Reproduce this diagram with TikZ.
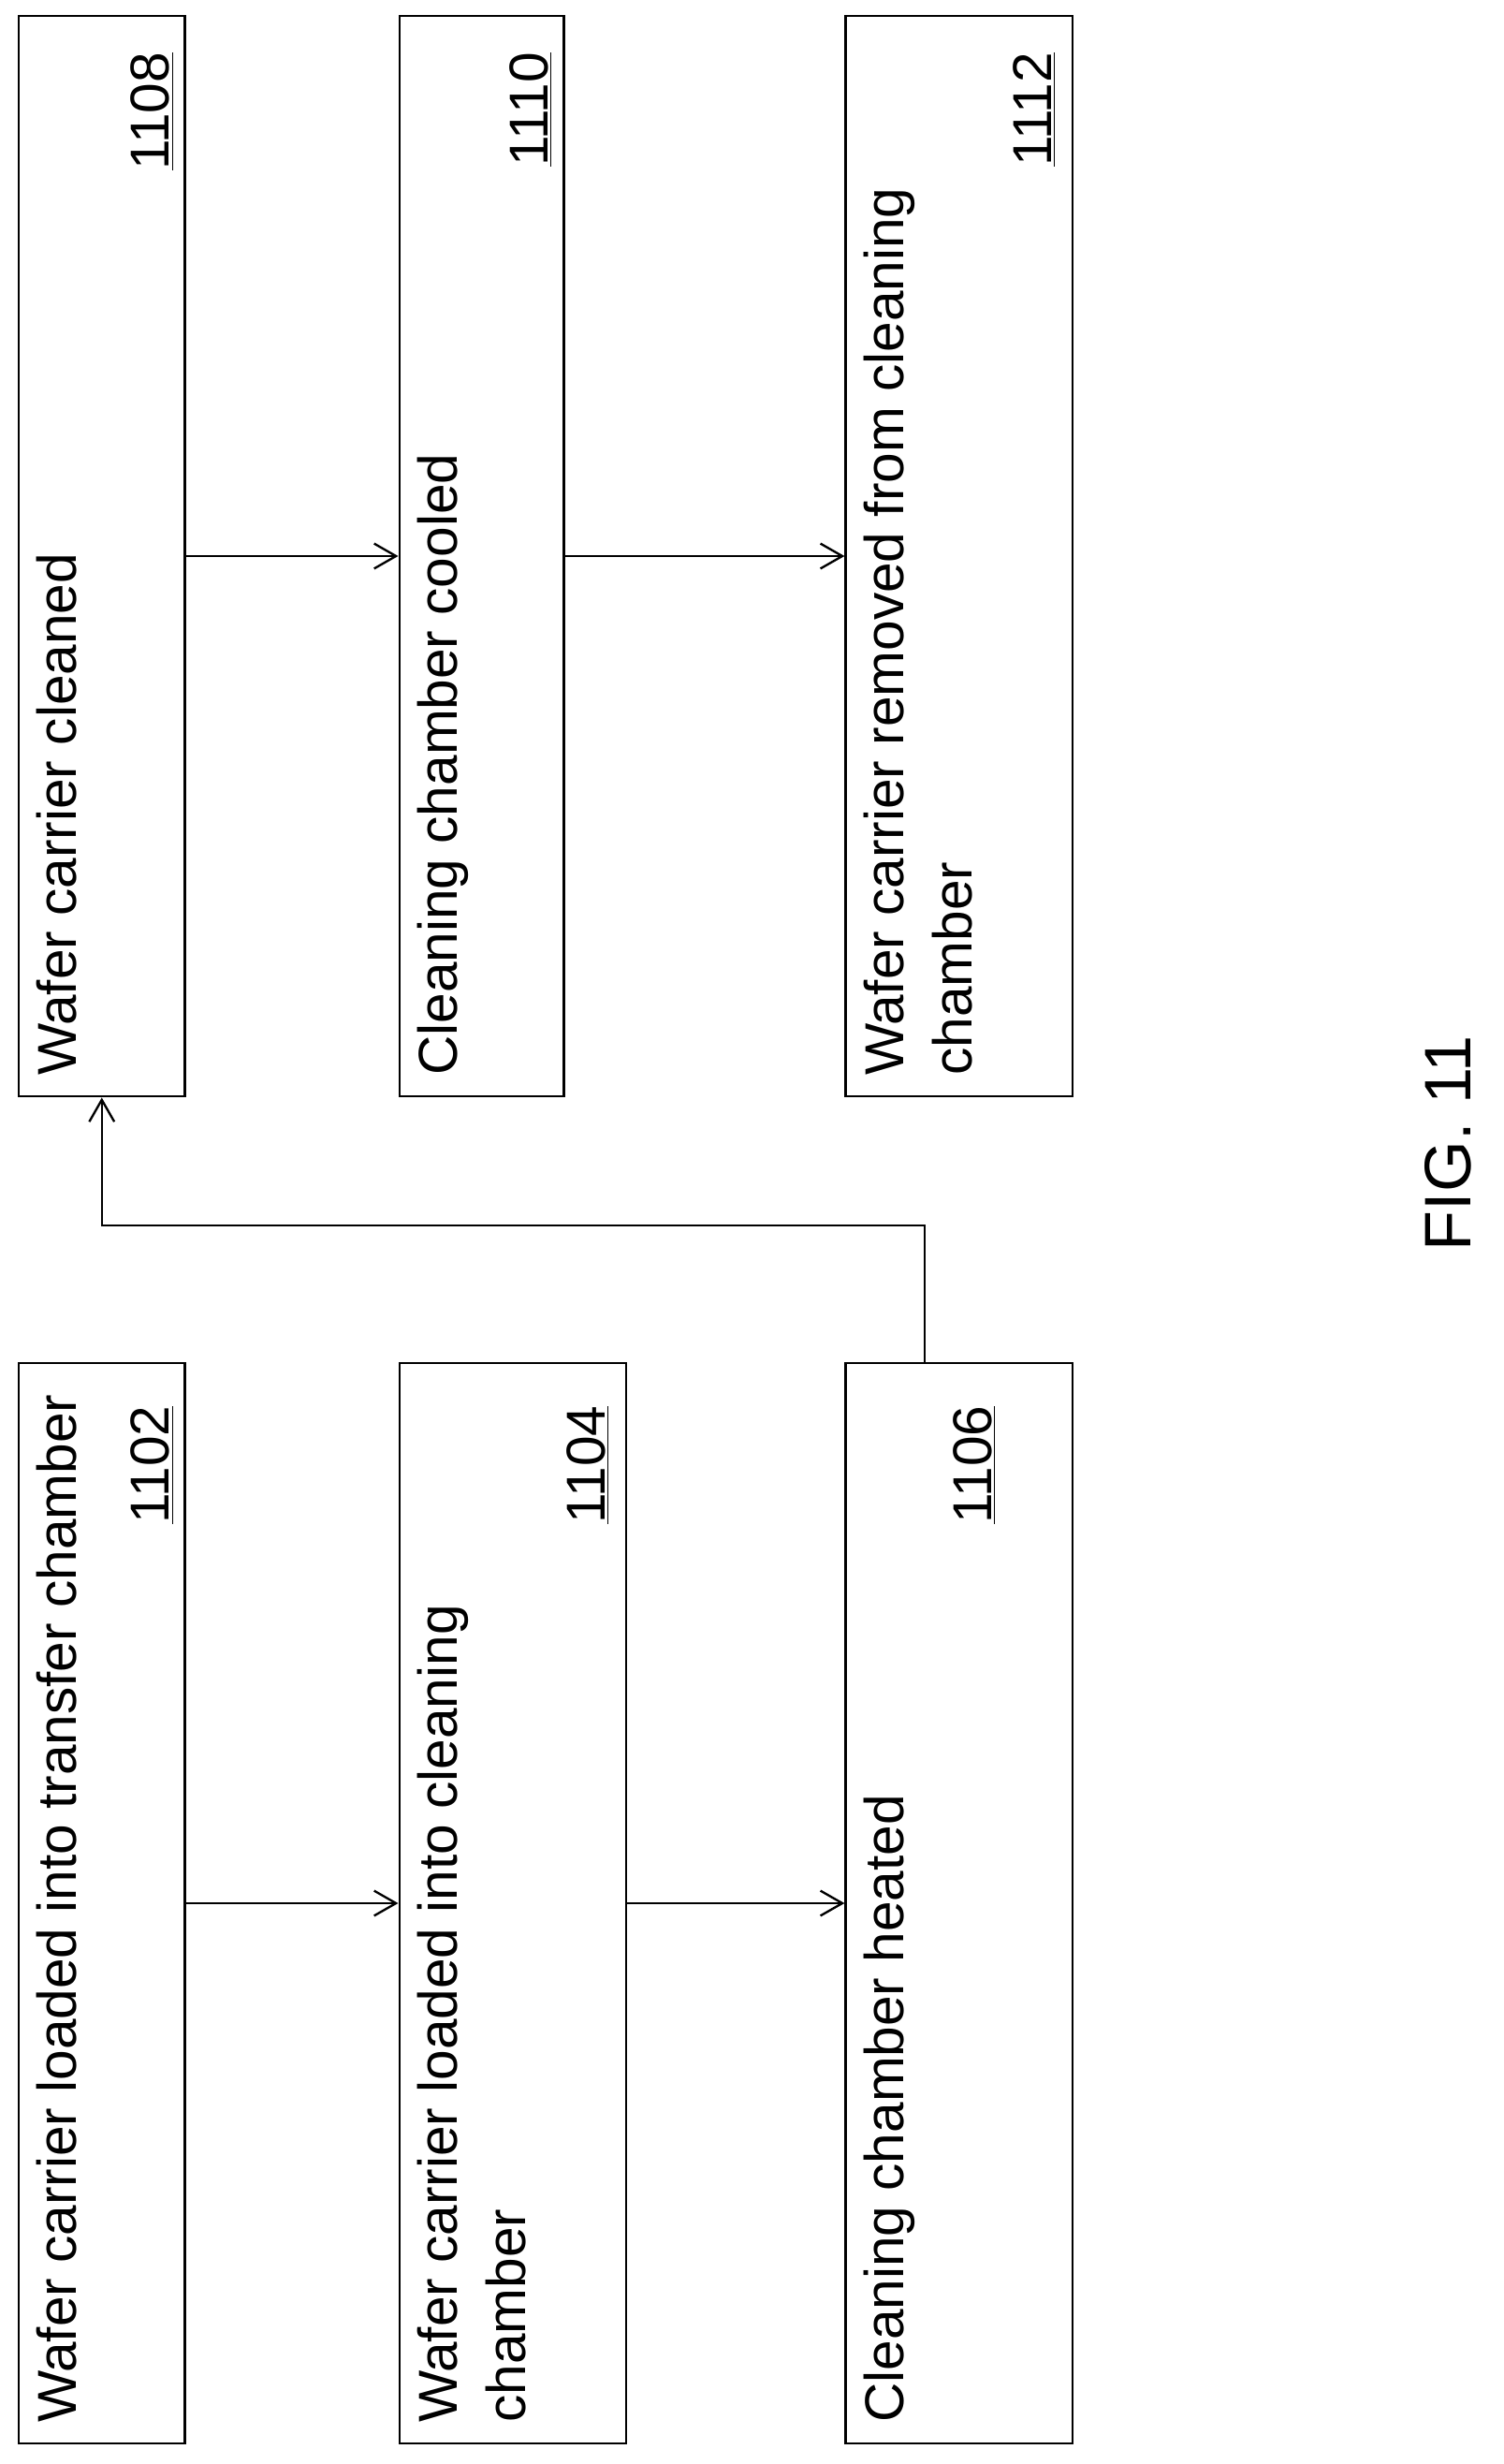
\documentclass[tikz,border=0pt]{standalone}
\usepackage{fontspec}
\setmainfont{Liberation Sans}
\usetikzlibrary{arrows.meta}

\tikzset{
  box/.style={draw, line width=1.4pt, minimum width=#1, minimum height=690pt, inner sep=0pt},
  txt/.style={rotate=90, anchor=north west, align=left, inner sep=0pt,
    font=\fontsize{35}{44}\selectfont},
  num/.style={rotate=90, anchor=south east, inner sep=0pt, font=\fontsize{35}{40}\selectfont},
  arr/.style={-{Straight Barb[length=14pt,width=16pt]}, line width=1.4pt}
}

\begin{document}
\begin{tikzpicture}[x=1pt, y=-1pt]
  \useasboundingbox (0,0) rectangle (960,1573);

  % linke Spalte
  \node[box=106pt] (b1102) at (65,1215) {};
  \node[box=145pt] (b1104) at (327.5,1215) {};
  \node[box=145pt] (b1106) at (612.5,1215) {};
  % rechte Spalte
  \node[box=106pt] (b1108) at (65,355) {};
  \node[box=105pt] (b1110) at (307.5,355) {};
  \node[box=145pt] (b1112) at (612.5,355) {};

  % Texte
  \node[txt] (t1102) at ([xshift=12pt,yshift=14pt]b1102.south west) {Wafer carrier loaded into transfer chamber};
  \node[txt] (t1104) at ([xshift=12pt,yshift=14pt]b1104.south west) {Wafer carrier loaded into cleaning\\chamber};
  \node[txt] (t1106) at ([xshift=12pt,yshift=14pt]b1106.south west) {Cleaning chamber heated};
  \node[txt] (t1108) at ([xshift=12pt,yshift=14pt]b1108.south west) {Wafer carrier cleaned};
  \node[txt] (t1110) at ([xshift=12pt,yshift=14pt]b1110.south west) {Cleaning chamber cooled};
  \node[txt] (t1112) at ([xshift=12pt,yshift=14pt]b1112.south west) {Wafer carrier removed from cleaning\\chamber};

  % Nummern
  \node[num] (n1102) at ([xshift=-8pt,yshift=-28pt]b1102.north east) {\underline{1102}};
  \node[num] (n1104) at ([xshift=-12pt,yshift=-28pt]b1104.north east) {\underline{1104}};
  \node[num] (n1106) at ([xshift=-50pt,yshift=-28pt]b1106.north east) {\underline{1106}};
  \node[num] (n1108) at ([xshift=-8pt,yshift=-24pt]b1108.north east) {\underline{1108}};
  \node[num] (n1110) at ([xshift=-8pt,yshift=-24pt]b1110.north east) {\underline{1110}};
  \node[num] (n1112) at ([xshift=-12pt,yshift=-24pt]b1112.north east) {\underline{1112}};

  % Pfeile
  \draw[arr] (b1102.east) -- (b1104.west);
  \draw[arr] (b1104.east) -- (b1106.west);
  \draw[arr] ([xshift=-22pt]b1106.north) -- ++(0,-87) -| (b1108.south);
  \draw[arr] (b1108.east) -- (b1110.west);
  \draw[arr] (b1110.east) -- (b1112.west);

  \node[rotate=90, font=\fontsize{42}{48}\selectfont] (fig) at (925,730) {FIG. 11};
\end{tikzpicture}
\end{document}
